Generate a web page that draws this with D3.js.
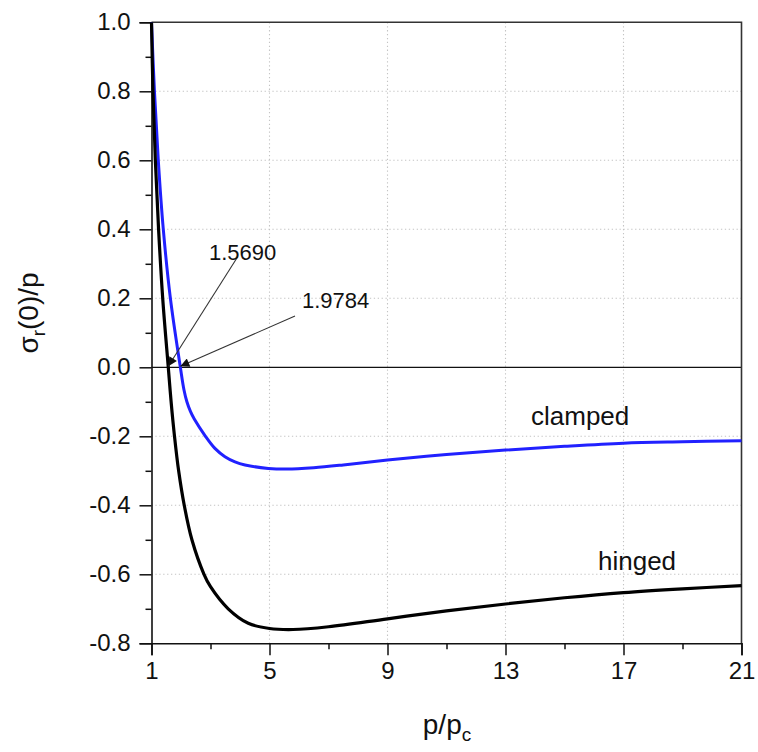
<!DOCTYPE html>
<html>
<head>
<meta charset="utf-8">
<script src="https://cdn.jsdelivr.net/npm/d3@7"></script>
<style>
  html, body { margin: 0; padding: 0; background: #fff; }
  text { font-family: "Liberation Sans", Arial, sans-serif; fill: #111; }
</style>
</head>
<body>
<svg id="chart" width="758" height="752"></svg>
<script>
// ---- data ----
const hingedX = [1.0, 1.05, 1.13, 1.24, 1.38, 1.569, 1.665, 1.78, 1.92, 2.11, 2.37, 2.78, 3.0, 3.6, 4.28, 5.0, 5.8, 7.0, 9.0, 11, 13, 15, 17, 19, 21];
const hingedY = [1.0, 0.8, 0.6, 0.4, 0.2, 0.0, -0.1, -0.2, -0.3, -0.4, -0.5, -0.6, -0.636, -0.7, -0.742, -0.757, -0.760, -0.752, -0.729, -0.706, -0.686, -0.668, -0.653, -0.642, -0.633];
const clampedX = [1.0, 1.1, 1.23, 1.40, 1.64, 1.9784, 2.1, 2.2, 2.32, 2.45, 2.83, 3.15, 3.49, 3.83, 4.17, 4.96, 5.6, 6.5, 7.5, 9.0, 11, 13, 15, 17, 19, 21];
const clampedY = [1.0, 0.8, 0.6, 0.4, 0.2, 0.0, -0.065, -0.1, -0.128, -0.15, -0.2, -0.235, -0.259, -0.274, -0.283, -0.293, -0.295, -0.291, -0.283, -0.269, -0.253, -0.240, -0.229, -0.220, -0.216, -0.213];
const xMajorTicks = [1, 5, 9, 13, 17, 21];
const xMinorTicks = [3, 7, 11, 15, 19];
const yMajorTicks = [-0.8, -0.6, -0.4, -0.2, 0.0, 0.2, 0.4, 0.6, 0.8, 1.0];
const yMinorTicks = [-0.7, -0.5, -0.3, -0.1, 0.1, 0.3, 0.5, 0.7, 0.9];
const yTickLabels = ["-0.8", "-0.6", "-0.4", "-0.2", "0.0", "0.2", "0.4", "0.6", "0.8", "1.0"];
const seriesNames = ["clamped", "hinged"];
const roots = [1.5690, 1.9784];
const rootLabels = ["1.5690", "1.9784"];

// ---- layout ----
const svg = d3.select("#chart");
const L = 151.5, R = 741.5, T = 22.3, B = 643.3;
const x = d3.scaleLinear().domain([1, 21]).range([L, R]);
const y = d3.scaleLinear().domain([-0.8, 1.0]).range([B, T]);

// grid
const grid = svg.append("g").attr("stroke", "#c4c4c4").attr("stroke-width", 1.1).attr("stroke-dasharray", "1.3,2.6");
grid.selectAll("line.gx").data(xMajorTicks.filter(d => d > 1 && d < 21)).join("line")
  .attr("x1", d => x(d)).attr("x2", d => x(d)).attr("y1", T).attr("y2", B);
grid.selectAll("line.gy").data(yMajorTicks.filter(d => d > -0.8 && d < 1.0 && d !== 0)).join("line")
  .attr("x1", L).attr("x2", R).attr("y1", d => y(d)).attr("y2", d => y(d));

// zero line
svg.append("line").attr("x1", L).attr("x2", R).attr("y1", y(0)).attr("y2", y(0))
  .attr("stroke", "#111").attr("stroke-width", 1.3);

// frame (top & right)
svg.append("path").attr("d", `M${L},${T}H${R}V${B}`).attr("fill", "none")
  .attr("stroke", "#333").attr("stroke-width", 1.6);

// axes
const xAxis = svg.append("g").attr("transform", `translate(0,${B})`)
  .call(d3.axisBottom(x).tickValues(xMajorTicks).tickSize(12).tickPadding(7).tickFormat(d3.format("d")));
const xMinor = svg.append("g").attr("transform", `translate(0,${B})`)
  .call(d3.axisBottom(x).tickValues(xMinorTicks).tickSize(6).tickFormat(""));
const yAxis = svg.append("g").attr("transform", `translate(${L},0)`)
  .call(d3.axisLeft(y).tickValues(yMajorTicks).tickSize(12).tickPadding(9).tickFormat((d, i) => yTickLabels[i]));
const yMinor = svg.append("g").attr("transform", `translate(${L},0)`)
  .call(d3.axisLeft(y).tickValues(yMinorTicks).tickSize(6).tickFormat(""));
[xAxis, xMinor, yAxis, yMinor].forEach(g => {
  g.selectAll(".domain").attr("stroke", "#111").attr("stroke-width", 1.6);
  g.selectAll(".tick line").attr("stroke", "#111").attr("stroke-width", 1.5);
  g.selectAll("text").attr("font-family", "Liberation Sans, Arial, sans-serif").attr("font-size", 24).attr("fill", "#111");
});
xMinor.select(".domain").remove();
yMinor.select(".domain").remove();

// curves
const line = d3.line().x(d => x(d[0])).y(d => y(d[1])).curve(d3.curveCatmullRom.alpha(0.5));
svg.append("path").datum(clampedX.map((v, i) => [v, clampedY[i]]))
  .attr("d", line).attr("fill", "none").attr("stroke", "#2121ff").attr("stroke-width", 3);
svg.append("path").datum(hingedX.map((v, i) => [v, hingedY[i]]))
  .attr("d", line).attr("fill", "none").attr("stroke", "#000").attr("stroke-width", 3.2);

// annotations with arrows
const defs = svg.append("defs");
defs.append("marker").attr("id", "arr").attr("viewBox", "0 0 10 10").attr("refX", 10).attr("refY", 5)
  .attr("markerWidth", 13).attr("markerHeight", 9).attr("markerUnits", "userSpaceOnUse").attr("orient", "auto")
  .append("path").attr("d", "M0,0L10,5L0,10z").attr("fill", "#111");
const annStart = [[237.7, 256.7], [295, 316]];
const annText = [[209, 260], [302, 308]];
roots.forEach((r, i) => {
  svg.append("line").attr("x1", annStart[i][0]).attr("y1", annStart[i][1])
    .attr("x2", x(r)).attr("y2", y(0) - 1)
    .attr("stroke", "#333").attr("stroke-width", 1.1).attr("marker-end", "url(#arr)");
  svg.append("text").attr("x", annText[i][0]).attr("y", annText[i][1])
    .attr("font-size", 22).text(rootLabels[i]);
});

// series labels
svg.append("text").attr("x", 531).attr("y", 425).attr("font-size", 26).text(seriesNames[0]);
svg.append("text").attr("x", 598).attr("y", 570).attr("font-size", 26).text(seriesNames[1]);

// axis titles
const xt = svg.append("text").attr("x", 447).attr("y", 734).attr("text-anchor", "middle").attr("font-size", 28);
xt.append("tspan").text("p/p");
xt.append("tspan").attr("font-size", 19).attr("dy", 7).text("c");

const yt = svg.append("text").attr("transform", "translate(38,313) rotate(-90)").attr("text-anchor", "middle").attr("font-size", 28);
yt.append("tspan").text("σ");
yt.append("tspan").attr("font-size", 19).attr("dy", 7).text("r");
yt.append("tspan").attr("dy", -7).text("(0)/p");
</script>
</body>
</html>
